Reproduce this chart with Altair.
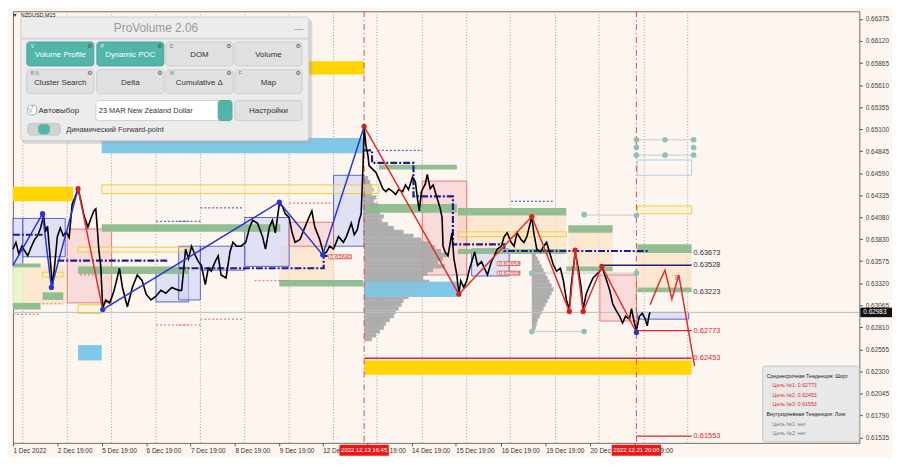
import altair as alt
import pandas as pd

# ------------------------------------------------------------------ values
Y_TICKS = [0.66375, 0.66120, 0.65865, 0.65610, 0.65355, 0.65100, 0.64845,
           0.64590, 0.64335, 0.64080, 0.63830, 0.63575, 0.63320, 0.63065,
           0.62810, 0.62555, 0.62300, 0.62045, 0.61790, 0.61535]
X_TICKS = [2, 47, 92, 137, 182, 227, 272, 316, 361, 406, 451, 497, 542, 587, 632]
X_LABELS = ["1 Dec 2022", "2 Dec 19:00", "5 Dec 19:00", "6 Dec 19:00",
            "7 Dec 19:00", "8 Dec 19:00", "9 Dec 19:00", "12 Dec 19:00",
            "13 Dec 19:00", "14 Dec 19:00", "15 Dec 19:00", "16 Dec 19:00",
            "19 Dec 19:00", "20 Dec 19:00", "21 Dec 19:00"]
GRID_X = [12, 57, 102, 147, 192, 237, 282, 327, 371, 417, 462, 506, 552, 596, 642, 686]
EVENT_X = [358, 634]
EVENT_TEXT = ["2022.12.13 16:45", "2022.12.21 20:00"]

# price path (bar position, close)
PRICE_X = [2, 5, 8, 11, 14, 17, 20, 24, 27, 30,
           33, 35, 37, 39, 42, 44, 47, 50, 53, 56,
           59, 62, 65, 68, 71, 74, 78, 81, 84, 86,
           88, 89, 91, 93, 96, 100, 104, 107, 110, 113,
           118, 123, 128, 133, 137, 142, 147, 152, 157, 163,
           170, 173, 177, 180, 183, 187, 190, 193, 197, 200,
           203, 207, 210, 213, 218, 222, 225, 229, 233, 238,
           242, 245, 250, 255, 258, 262, 265, 268, 272, 275,
           278, 282, 285, 288, 293, 298, 302, 305, 308, 313,
           317, 320, 323, 327, 332, 337, 340, 345, 348, 351,
           353, 355, 357, 358, 360, 362, 363, 367, 370, 373,
           377, 380, 383, 387, 390, 393, 397, 400, 403, 407,
           410, 412, 414, 416, 420, 422, 425, 428, 432, 435,
           437, 438, 440, 443, 447, 449, 452, 454, 456, 459,
           462, 465, 468, 470, 473, 477, 480, 483, 487, 490,
           493, 497, 500, 503, 507, 510, 513, 517, 520, 523,
           527, 528, 530, 533, 537, 540, 543, 547, 550, 553,
           557, 560, 563, 566, 568, 570, 572, 575, 578, 580,
           583, 587, 590, 593, 597, 599, 603, 607, 610, 613,
           617, 620, 623, 627, 629, 632, 634, 637, 640, 643,
           645, 647, 648]
PRICE_Y = [0.63715, 0.63793, 0.63659, 0.63748, 0.63693, 0.63637, 0.63725, 0.63826, 0.63870, 0.63958,
           0.64102, 0.63914, 0.63980, 0.63715, 0.63282, 0.63493, 0.63859, 0.63958, 0.63870, 0.63914,
           0.63848, 0.64235, 0.64313, 0.64413, 0.64268, 0.64102, 0.63969, 0.64069, 0.64157, 0.64180,
           0.63881, 0.63715, 0.63515, 0.63027, 0.63127, 0.63093, 0.63215, 0.63349, 0.63493, 0.63271,
           0.63049, 0.63271, 0.63415, 0.63349, 0.63193, 0.63127, 0.63171, 0.63238, 0.63204, 0.63271,
           0.63238, 0.63238, 0.63715, 0.63604, 0.63748, 0.63637, 0.63570, 0.63526, 0.63304, 0.63493,
           0.63460, 0.63570, 0.63637, 0.63415, 0.63382, 0.63682, 0.63793, 0.63748, 0.63748, 0.63793,
           0.63969, 0.64047, 0.64014, 0.63859, 0.63715, 0.63969, 0.64047, 0.63903, 0.64235, 0.64213,
           0.64124, 0.64080, 0.63903, 0.63793, 0.63826, 0.63969, 0.64080, 0.64157, 0.63969, 0.63826,
           0.63659, 0.63682, 0.63748, 0.63715, 0.63859, 0.63793, 0.63859, 0.64014, 0.63881, 0.63936,
           0.64047, 0.64124, 0.64712, 0.65122, 0.64900, 0.64790, 0.64679, 0.64634, 0.64601, 0.64523,
           0.64413, 0.64379, 0.64413, 0.64379, 0.64346, 0.64402, 0.64379, 0.64457, 0.64402, 0.64546,
           0.64490, 0.64302, 0.64157, 0.64379, 0.64468, 0.64579, 0.64413, 0.64457, 0.64302, 0.64191,
           0.64080, 0.63748, 0.63682, 0.63637, 0.63903, 0.63604, 0.63415, 0.63193, 0.63349, 0.63271,
           0.63349, 0.63493, 0.63604, 0.63682, 0.63526, 0.63570, 0.63493, 0.63415, 0.63570, 0.63637,
           0.63715, 0.63748, 0.63859, 0.63903, 0.63793, 0.63748, 0.63903, 0.63826, 0.63793, 0.63859,
           0.64047, 0.64091, 0.63903, 0.63715, 0.63682, 0.63748, 0.63793, 0.63637, 0.63526, 0.63460,
           0.63493, 0.63349, 0.63127, 0.63016, 0.63304, 0.63493, 0.63682, 0.63493, 0.63271, 0.63016,
           0.63193, 0.63304, 0.63382, 0.63415, 0.63460, 0.63515, 0.63382, 0.63238, 0.63082, 0.63016,
           0.62938, 0.62861, 0.62938, 0.62905, 0.63027, 0.62861, 0.62773, 0.62938, 0.62972, 0.62905,
           0.62827, 0.62961, 0.62983]
CUR_PRICE = 0.62983

# zigzag legs
BLUE_LEG = [1, 1, 1, 1, 2, 2, 2, 2]
BLUE_X = [2, 32, 41, 68, 93, 272, 316, 358]
BLUE_Y = [0.63526, 0.64124, 0.63271, 0.64413, 0.63016, 0.64257, 0.63648, 0.65133]
RED_LEG = [1, 1, 2, 2, 2, 2, 2, 2, 2, 2, 3, 3, 3, 3, 3, 3]
RED_X = [68, 93, 358, 454, 528, 566, 572, 580, 599, 634, 648, 657, 663, 670, 677, 693]
RED_Y = [0.64413, 0.63016, 0.65133, 0.63193, 0.64091, 0.62994, 0.63704, 0.62994,
         0.63515, 0.62751, 0.63071, 0.63326, 0.63471, 0.63138, 0.63415, 0.62362]
BLUE_PIV_X = [32, 41, 93, 272, 316, 634]
BLUE_PIV_Y = [0.64124, 0.63271, 0.63016, 0.64257, 0.63648, 0.62751]
RED_PIV_X = [68, 358, 454, 528, 566, 572, 580, 599]
RED_PIV_Y = [0.64413, 0.65133, 0.63193, 0.64091, 0.62994, 0.63704, 0.62994, 0.63515]

# zones (start bar, end bar, upper price, lower price)
GOLD_X0 = [2, 250, 358]
GOLD_X1 = [63, 358, 690]
GOLD_TOP = [0.64435, 0.65887, 0.62428]
GOLD_BOT = [0.64268, 0.65732, 0.62262]

SKY_X0 = [92, 68, 358]
SKY_X1 = [357, 92, 452]
SKY_TOP = [0.65000, 0.62605, 0.63337]
SKY_BOT = [0.64823, 0.62428, 0.63160]

GREEN_X0 = [2, 32, 2, 68, 92, 272, 373, 360, 453, 565, 453, 563, 635, 635]
GREEN_X1 = [30, 53, 30, 180, 273, 357, 452, 452, 563, 610, 563, 610, 690, 690]
GREEN_TOP = [0.63548, 0.63215, 0.63093, 0.63515, 0.64003, 0.63359, 0.64690,
             0.64235, 0.64191, 0.63991, 0.63715, 0.63515, 0.63770, 0.63271]
GREEN_BOT = [0.63504, 0.63127, 0.63016, 0.63426, 0.63914, 0.63282, 0.64634,
             0.64135, 0.64102, 0.63903, 0.63659, 0.63460, 0.63671, 0.63215]

PINK_X0 = [57, 282, 417, 597]
PINK_X1 = [102, 327, 462, 634]
PINK_TOP = [0.63947, 0.64025, 0.64501, 0.63415]
PINK_BOT = [0.63093, 0.63748, 0.63415, 0.62883]

LAV_X0 = [2, 12, 147, 170, 192, 237, 327, 467, 635]
LAV_X1 = [12, 55, 180, 192, 237, 282, 358, 505, 687]
LAV_TOP = [0.64069, 0.64069, 0.63471, 0.63748, 0.63748, 0.64080, 0.64568, 0.63715, 0.62983]
LAV_BOT = [0.63526, 0.63626, 0.63104, 0.63127, 0.63471, 0.63515, 0.63748, 0.63404, 0.62905]

PEACH_X0 = [12, 272, 453, 565, 635]
PEACH_X1 = [55, 327, 563, 610, 690]
PEACH_TOP = [0.63526, 0.63748, 0.64102, 0.63903, 0.63671]
PEACH_BOT = [0.63082, 0.63293, 0.63715, 0.63515, 0.63271]

LIME_X0 = [2]
LIME_X1 = [12]
LIME_TOP = [0.63515]
LIME_BOT = [0.63049]

YBOX_X0 = [92, 68, 32, 68, 453, 635]
YBOX_X1 = [373, 180, 53, 92, 563, 690]
YBOX_TOP = [0.64457, 0.63737, 0.63448, 0.63071, 0.63914, 0.64213]
YBOX_BOT = [0.64357, 0.63682, 0.63393, 0.62972, 0.63859, 0.64124]

CBOX_X0 = [635]
CBOX_X1 = [690]
CBOX_TOP = [0.64745]
CBOX_BOT = [0.64568]

# volume profiles (price level, volume in bar widths)
VP1_START = 358
VP1_PRICE = [0.64535, 0.64491, 0.64447, 0.64402, 0.64358, 0.64313, 0.64269, 0.64225, 0.64180, 0.64136,
             0.64092, 0.64047, 0.64003, 0.63959, 0.63914, 0.63870, 0.63826, 0.63781, 0.63737, 0.63693,
             0.63648, 0.63604, 0.63560, 0.63515, 0.63471, 0.63427, 0.63382, 0.63338, 0.63294, 0.63249,
             0.63205, 0.63161, 0.63116, 0.63072, 0.63028, 0.62983, 0.62939, 0.62895, 0.62850, 0.62806,
             0.62762, 0.62717, 0.62673]
VP1_VOL = [4, 6, 8, 10, 8, 12, 10, 14, 12, 16,
           20, 18, 24, 30, 40, 50, 58, 66, 72, 78,
           85, 80, 75, 82, 70, 64, 60, 66, 70, 62,
           55, 45, 40, 38, 35, 32, 30, 26, 22, 20,
           16, 12, 8]
VP2_START = 528
VP2_PRICE = [0.63648, 0.63604, 0.63560, 0.63515, 0.63471, 0.63427, 0.63382, 0.63338, 0.63294, 0.63249,
             0.63205, 0.63161, 0.63116, 0.63072, 0.63028, 0.62983, 0.62939, 0.62895, 0.62850, 0.62806]
VP2_VOL = [4, 6, 8, 10, 12, 14, 16, 18, 20, 22, 20, 18, 16, 14, 12, 10, 8, 6, 5, 4]

# dynamic POC (dash-dot, stepped)
POC_SEG = ["a", "a", "b", "b", "c", "c", "c", "c",
           "d", "d", "d", "d", "d", "d", "d", "d", "d", "d"]
POC_X = [2, 32, 47, 160, 170, 317, 317, 326,
         358, 366, 366, 408, 408, 448, 448, 500, 500, 647]
POC_Y = [0.63881, 0.63881, 0.63581, 0.63581, 0.63493, 0.63493, 0.63637, 0.63637,
         0.64856, 0.64856, 0.64712, 0.64712, 0.64324, 0.64324, 0.63770, 0.63770, 0.63693, 0.63693]

# thin dotted levels
RDOT_X0 = [282, 247, 192, 170, 2, 70, 32, 147]
RDOT_X1 = [327, 280, 235, 192, 30, 92, 53, 180]
RDOT_P = [0.64246, 0.63349, 0.62905, 0.62838, 0.62961, 0.63415, 0.63082, 0.62838]
NDOT_X0 = [147, 192, 170, 372, 507]
NDOT_X1 = [180, 235, 192, 417, 550]
NDOT_P = [0.64036, 0.64191, 0.64036, 0.64856, 0.64268]

# forward-point guides and dots
GUIDE_X0 = [634, 634, 581, 528, 528]
GUIDE_X1 = [692, 692, 634, 581, 634]
GUIDE_P = [0.64978, 0.64801, 0.64108, 0.62761, 0.63437]
TEAL_X = [634, 663, 692, 634, 692, 634, 663, 692, 634, 581, 528, 581, 528, 634]
TEAL_Y = [0.64978, 0.64978, 0.64978, 0.64889, 0.64889, 0.64801, 0.64801, 0.64801,
          0.64102, 0.64113, 0.63437, 0.62761, 0.62761, 0.63437]

# key levels
LEVEL_PRICE = [0.63673, 0.63528, 0.63223, 0.62773, 0.62453, 0.61553]
LEVEL_FROM = [635, 597, 635, 634, 358, 634]
LEVEL_TO = [690, 690, 690, 690, 690, 690]
LEVEL_KIND = ["zone", "poc", "zone", "target", "target", "target"]

BOXLBL_TEXT = ["0.63640", "0.63658", "0.63558"]
BOXLBL_X = [322, 493, 493]
BOXLBL_P = [0.63626, 0.63548, 0.63437]

LEGEND_LINES = ["Среднесрочная Тенденция: Шорт", "Цель №1: 0.62773", "Цель №2: 0.62453",
                "Цель №3: 0.61553", "Внутридневная Тенденция: Лонг", "Цель №1: нет", "Цель №2: нет"]
LEGEND_ROLE = ["head", "target", "target", "target", "head", "none", "none"]

# ------------------------------------------------------------------ layout / style
W, H = 855, 436
X_DOMAIN = [2, 860]
Y_DOMAIN = [0.61475, 0.66464]
XS = alt.Scale(domain=X_DOMAIN, nice=False, zero=False)
YS = alt.Scale(domain=Y_DOMAIN, nice=False, zero=False)

label_expr = ("[" + ",".join("'" + s + "'" for s in X_LABELS) + "][indexof(["
              + ",".join(str(v) for v in X_TICKS) + "], datum.value)]")
XAX = alt.Axis(values=X_TICKS, labelExpr=label_expr, labelAlign="left", labelFontSize=6.5,
               labelColor="#333333", tickSize=3, tickColor="#555555", labelPadding=2,
               domain=False, grid=False, title=None, labelOverlap=False, labelFlush=False)
YAX = alt.Axis(orient="right", values=Y_TICKS, format=".5f", labelFontSize=6.5,
               labelColor="#444444", tickSize=3, tickColor="#555555", labelPadding=3,
               domain=False, grid=False, title=None, labelOverlap=False)


def X(f):
    return alt.X(f, scale=XS, axis=XAX)


def Y(f):
    return alt.Y(f, scale=YS, axis=YAX)


def yv(ref_y):
    # overlay layout helper: reference pixel row -> value on the price scale
    return Y_DOMAIN[1] - (ref_y - 2) * (Y_DOMAIN[1] - Y_DOMAIN[0]) / 450


def zone_layer(x0, x1, top, bot, **mark):
    df = pd.DataFrame({"x0": x0, "x1": x1, "top": top, "bot": bot})
    return alt.Chart(df).mark_rect(**mark).encode(x=X("x0:Q"), x2="x1:Q", y=Y("top:Q"), y2="bot:Q")


def seg_layer(x0, x1, p, **mark):
    df = pd.DataFrame({"x0": x0, "x1": x1, "p": p})
    return alt.Chart(df).mark_rule(**mark).encode(x=X("x0:Q"), x2="x1:Q", y=Y("p:Q"))


def vp_layer(start, prices, vols):
    df = pd.DataFrame({"p": prices, "v": vols})
    df["x0"] = start
    df["x1"] = start + df["v"]
    df["top"] = df["p"] + 0.000235
    df["bot"] = df["p"] - 0.000235
    return alt.Chart(df).mark_rect(color="#A6A6A6", opacity=0.9).encode(
        x=X("x0:Q"), x2="x1:Q", y=Y("top:Q"), y2="bot:Q")


def overlay_rects(rows):
    df = pd.DataFrame(rows, columns=["x0", "y0", "x1", "y1", "fill", "stroke", "op"])
    df["top"] = df["y0"].map(yv)
    df["bot"] = df["y1"].map(yv)
    return alt.Chart(df).mark_rect(cornerRadius=3, strokeWidth=0.8).encode(
        x=X("x0:Q"), x2="x1:Q", y=Y("top:Q"), y2="bot:Q",
        fill=alt.Fill("fill:N", scale=None), stroke=alt.Stroke("stroke:N", scale=None),
        opacity=alt.Opacity("op:Q", scale=None))


def overlay_text(rows, align, font="Liberation Sans", weight="normal"):
    df = pd.DataFrame(rows, columns=["t", "x", "y", "c", "fs"])
    df["p"] = df["y"].map(yv)
    return alt.Chart(df).mark_text(align=align, baseline="middle", font=font, fontWeight=weight).encode(
        x=X("x:Q"), y=Y("p:Q"), text="t:N",
        color=alt.Color("c:N", scale=None), size=alt.Size("fs:Q", scale=None))


layers = []

# grid
layers.append(alt.Chart(pd.DataFrame({"x": GRID_X})).mark_rule(
    color="#9C9C9C", strokeDash=[1, 2], strokeWidth=1).encode(x=X("x:Q")))

# background zones
layers.append(zone_layer(LIME_X0, LIME_X1, LIME_TOP, LIME_BOT, color="#E4F5C8", opacity=0.9))
layers.append(zone_layer(PEACH_X0, PEACH_X1, PEACH_TOP, PEACH_BOT, color="#FBE3C6", opacity=0.75))
layers.append(zone_layer(LAV_X0, LAV_X1, LAV_TOP, LAV_BOT, fill="#CDD3F6", fillOpacity=0.6,
                         stroke="#4A58D0", strokeWidth=0.9))
layers.append(zone_layer(PINK_X0, PINK_X1, PINK_TOP, PINK_BOT, fill="#F7C9C9", fillOpacity=0.6,
                         stroke="#E06666", strokeWidth=0.8))
layers.append(zone_layer(GOLD_X0, GOLD_X1, GOLD_TOP, GOLD_BOT, color="#FFD400"))
layers.append(zone_layer(SKY_X0, SKY_X1, SKY_TOP, SKY_BOT, color="#80C8E8"))

# volume profiles
layers.append(vp_layer(VP1_START, VP1_PRICE, VP1_VOL))
layers.append(vp_layer(VP2_START, VP2_PRICE, VP2_VOL))
layers.append(zone_layer([358], [452], [0.63337], [0.63160], color="#80C8E8", opacity=0.85))

layers.append(zone_layer(GREEN_X0, GREEN_X1, GREEN_TOP, GREEN_BOT, color="#8DBA8D", opacity=0.95))
layers.append(zone_layer(YBOX_X0, YBOX_X1, YBOX_TOP, YBOX_BOT, fill="#FFF3B8", fillOpacity=0.35,
                         stroke="#EFCB45", strokeWidth=1))
layers.append(zone_layer(CBOX_X0, CBOX_X1, CBOX_TOP, CBOX_BOT, fill="#FFFFFF", fillOpacity=0.0,
                         stroke="#A8D4E6", strokeWidth=1))

# current price line
layers.append(alt.Chart(pd.DataFrame({"p": [CUR_PRICE]})).mark_rule(
    color="#BDBDBD", strokeWidth=1).encode(y=Y("p:Q")))

# dotted levels and guides
layers.append(seg_layer(RDOT_X0, RDOT_X1, RDOT_P, color="#E06060", strokeDash=[2, 2], strokeWidth=1))
layers.append(seg_layer(NDOT_X0, NDOT_X1, NDOT_P, color="#3040C0", strokeDash=[2, 2], strokeWidth=1))
layers.append(seg_layer(GUIDE_X0, GUIDE_X1, GUIDE_P, color="#C9C9C9", strokeWidth=1))

# event lines
layers.append(alt.Chart(pd.DataFrame({"x": EVENT_X})).mark_rule(
    color="#E04848", strokeDash=[6, 3, 1, 3], strokeWidth=1).encode(x=X("x:Q")))

# key level lines
lv = pd.DataFrame({"p": LEVEL_PRICE, "x0": LEVEL_FROM, "x1": LEVEL_TO, "kind": LEVEL_KIND})
layers.append(alt.Chart(lv[lv.kind == "target"]).mark_rule(color="#E02828", strokeWidth=1.3).encode(
    x=X("x0:Q"), x2="x1:Q", y=Y("p:Q")))
layers.append(alt.Chart(lv[lv.kind == "poc"]).mark_rule(color="#1E1E8C", strokeWidth=1.4).encode(
    x=X("x0:Q"), x2="x1:Q", y=Y("p:Q")))

# dynamic POC
poc = pd.DataFrame({"seg": POC_SEG, "x": POC_X, "p": POC_Y})
poc["i"] = range(len(poc))
layers.append(alt.Chart(poc).mark_line(color="#1C1C8A", strokeWidth=2.2, strokeDash=[7, 2, 2, 2]).encode(
    x=X("x:Q"), y=Y("p:Q"), detail="seg:N", order="i:Q"))

# price
layers.append(alt.Chart(pd.DataFrame({"x": PRICE_X, "p": PRICE_Y})).mark_line(
    color="#000000", strokeWidth=1.6).encode(x=X("x:Q"), y=Y("p:Q")))

# zigzags
bz = pd.DataFrame({"leg": BLUE_LEG, "x": BLUE_X, "p": BLUE_Y})
bz["i"] = range(len(bz))
rz = pd.DataFrame({"leg": RED_LEG, "x": RED_X, "p": RED_Y})
rz["i"] = range(len(rz))
layers.append(alt.Chart(bz).mark_line(color="#2436D8", strokeWidth=1.5).encode(
    x=X("x:Q"), y=Y("p:Q"), detail="leg:N", order="i:Q"))
layers.append(alt.Chart(rz).mark_line(color="#E02C2C", strokeWidth=1.5).encode(
    x=X("x:Q"), y=Y("p:Q"), detail="leg:N", order="i:Q"))
layers.append(alt.Chart(pd.DataFrame({"x": BLUE_PIV_X, "p": BLUE_PIV_Y})).mark_circle(
    color="#2436D8", size=28, opacity=1).encode(x=X("x:Q"), y=Y("p:Q")))
layers.append(alt.Chart(pd.DataFrame({"x": RED_PIV_X, "p": RED_PIV_Y})).mark_circle(
    color="#D82020", size=28, opacity=1).encode(x=X("x:Q"), y=Y("p:Q")))
layers.append(alt.Chart(pd.DataFrame({"x": TEAL_X, "p": TEAL_Y})).mark_circle(
    color="#8CC2B9", size=32, opacity=1).encode(x=X("x:Q"), y=Y("p:Q")))

# level labels
lv["label"] = lv["p"].map(lambda v: f"{v:.5f}")
lv["c"] = lv["kind"].map({"zone": "#333333", "poc": "#333333", "target": "#E02828"})
lv["lx"] = 692
layers.append(alt.Chart(lv).mark_text(align="left", baseline="middle", fontSize=7.5).encode(
    x=X("lx:Q"), y=Y("p:Q"), text="label:N", color=alt.Color("c:N", scale=None)))

bl = pd.DataFrame({"t": BOXLBL_TEXT, "x": BOXLBL_X, "p": BOXLBL_P})
bl["x1"] = bl["x"] + 23
bl["top"] = bl["p"] + 0.00024
bl["bot"] = bl["p"] - 0.00024
layers.append(alt.Chart(bl).mark_rect(fill="#FDF0EC", stroke="#E06666", strokeWidth=0.8).encode(
    x=X("x:Q"), x2="x1:Q", y=Y("top:Q"), y2="bot:Q"))
layers.append(alt.Chart(bl).mark_text(align="left", baseline="middle", fontSize=6, dx=1.5,
                                      color="#E04040").encode(x=X("x:Q"), y=Y("p:Q"), text="t:N"))
layers.append(alt.Chart(pd.DataFrame({"x": [675], "p": [0.63382], "t": ["8"]})).mark_text(
    fontSize=7, color="#E04040").encode(x=X("x:Q"), y=Y("p:Q"), text="t:N"))

# ---------------- ProVolume panel (reference pixel layout)
TEAL = "#52B5AA"
TEAL_D = "#43A196"
BTN = "#E1E1E1"
BTN_S = "#C6C6C6"
panel_rects = [
    (12, 11, 305, 140, "#9E9E9E", "#9E9E9E", 0.35),
    (10, 8, 302, 137, "#ECECEC", "#C2C2C2", 1),
    (10, 30, 302, 31, "#D4D4D4", "#D4D4D4", 1),
    (16, 34, 84, 59, TEAL, TEAL_D, 1),
    (87, 34, 155, 59, TEAL, TEAL_D, 1),
    (157, 34, 225, 59, BTN, BTN_S, 1),
    (227, 34, 295, 59, BTN, BTN_S, 1),
    (16, 63, 84, 88, BTN, BTN_S, 1),
    (87, 63, 155, 88, BTN, BTN_S, 1),
    (157, 63, 225, 88, BTN, BTN_S, 1),
    (227, 63, 295, 88, BTN, BTN_S, 1),
    (17, 100, 26, 110, "#FFFFFF", "#999999", 1),
    (86, 95, 224, 116, "#FFFFFF", BTN_S, 1),
    (210, 95, 224, 116, TEAL, TEAL_D, 1),
    (227, 95, 295, 116, BTN, BTN_S, 1),
    (17, 119, 50, 131, "#D2D2D2", "#C0C0C0", 1),
    (28, 120, 39, 130, TEAL, TEAL, 1),
    (762, 372, 860, 451, "#E8E8E8", "#B8B8B8", 1),
]
layers.append(overlay_rects(panel_rects))

panel_center = [
    ("ProVolume 2.06", 147, 19, "#9A9A9A", 12),
    ("Volume Profile", 50, 48, "#FFFFFF", 8),
    ("Dynamic POC", 121, 48, "#FFFFFF", 8),
    ("DOM", 191, 48, "#333333", 8),
    ("Volume", 261, 48, "#333333", 8),
    ("Cluster Search", 50, 77, "#333333", 8),
    ("Delta", 121, 77, "#333333", 8),
    ("Cumulative Δ", 191, 77, "#333333", 8),
    ("Map", 261, 77, "#333333", 8),
    ("Настройки", 261, 106, "#333333", 8),
    ("—", 292, 21, "#777777", 9),
]
layers.append(overlay_text(panel_center, "center"))
panel_left = [
    ("√", 17, 105, TEAL, 10),
    ("Автовыбор", 28, 106, "#333333", 8),
    ("23 MAR New Zealand Dollar", 89, 106, "#333333", 7.5),
    ("Динамический Forward-point", 56, 126, "#333333", 7.5),
    ("V", 20, 38, "#E8F6F4", 5),
    ("P", 91, 38, "#E8F6F4", 5),
    ("D", 161, 38, "#777777", 5),
    ("B  N", 20, 66, "#777777", 5),
    ("M", 161, 66, "#777777", 5),
    ("F", 231, 66, "#777777", 5),
    ("NZDUSD,M15", 10, 6, "#222222", 5.5),
]
layers.append(overlay_text(panel_left, "left"))
gear = [("⚙", 80, 38, "#555555", 6), ("⚙", 151, 38, "#555555", 6), ("⚙", 221, 38, "#555555", 6),
        ("⚙", 291, 38, "#555555", 6), ("⚙", 80, 66, "#555555", 6), ("⚙", 151, 66, "#555555", 6),
        ("⚙", 221, 66, "#555555", 6), ("⚙", 291, 66, "#555555", 6), ("▾", 4, 6, "#222222", 6)]
layers.append(overlay_text(gear, "center", font="DejaVu Sans"))

# ---------------- legend box text
legend_colors = {"head": "#222222", "target": "#E02828", "none": "#777777"}
legend_rows = []
for k, (line, role) in enumerate(zip(LEGEND_LINES, LEGEND_ROLE)):
    legend_rows.append((line, 766 if role == "head" else 772, 382 + k * 10, legend_colors[role], 5.3))
layers.append(overlay_text(legend_rows, "left"))

# ---------------- axis flags
ev = pd.DataFrame({"x": EVENT_X, "t": EVENT_TEXT})
ev["x0"] = ev["x"] - 25
ev["x1"] = ev["x"] + 25
layers.append(alt.Chart(ev).mark_rect(color="#E81818").encode(
    x=X("x0:Q"), x2="x1:Q", y=alt.value(H + 2), y2=alt.value(H + 13)))
layers.append(alt.Chart(ev).mark_text(color="#FFFFFF", fontSize=6, baseline="middle").encode(
    x=X("x:Q"), y=alt.value(H + 7.5), text="t:N"))
cp = pd.DataFrame({"p": [CUR_PRICE], "t": [f"{CUR_PRICE:.5f}"]})
cp["top"] = cp["p"] + 0.00055
cp["bot"] = cp["p"] - 0.00055
layers.append(alt.Chart(cp).mark_rect(color="#111111").encode(
    x=alt.value(W + 1), x2=alt.value(W + 33), y=Y("top:Q"), y2="bot:Q"))
layers.append(alt.Chart(cp).mark_text(color="#FFFFFF", fontSize=6.5, align="left", baseline="middle").encode(
    x=alt.value(W + 4), y=Y("p:Q"), text="t:N"))

chart = alt.layer(*layers).properties(
    width=W, height=H, background="#FDF5EF", padding=0
).configure(font="Liberation Sans").configure_view(stroke="#6E6E6E", strokeWidth=1)

chart.save("out.html", embed_options={"renderer": "svg", "actions": False})
